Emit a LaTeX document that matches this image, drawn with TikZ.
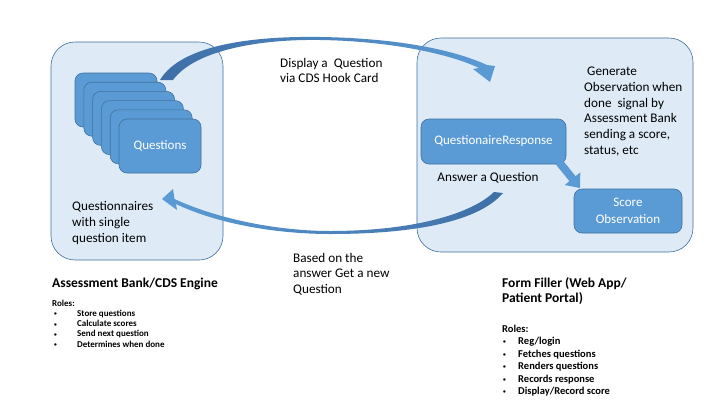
\documentclass[tikz,border=0pt]{standalone}
\usepackage{fontspec}
\setmainfont{Carlito}
\definecolor{panel}{HTML}{DEEBF7}
\definecolor{edge}{HTML}{41719C}
\definecolor{boxfill}{HTML}{5B9BD5}
\definecolor{arrdark}{HTML}{3E6EA6}
\newcommand{\smallbul}{{\fontsize{5.5}{5.5}\selectfont\raisebox{0.6pt}{\textbullet}}}
\begin{document}
\begin{tikzpicture}[x=1pt,y=-1pt,
  container/.style={draw=edge, line width=0.6pt, fill=panel, rounded corners=24pt, inner sep=0},
  bluebox/.style={draw=edge, line width=0.6pt, fill=boxfill, rounded corners=8pt, inner sep=0, text=white, align=center, font=\fontsize{13}{16.5}\selectfont},
  txt/.style={font=\fontsize{13.2}{16}\selectfont, inner sep=0, align=left, anchor=west},
  titletxt/.style={font=\bfseries\fontsize{13.5}{15}\selectfont, inner sep=0, align=left, anchor=west},
  roleleft/.style={font=\bfseries\fontsize{9}{10.3}\selectfont, inner sep=0, align=left, anchor=west},
  roleright/.style={font=\bfseries\fontsize{10.5}{12.5}\selectfont, inner sep=0, align=left, anchor=west},
]
\useasboundingbox (0,0) rectangle (720,405);
\fill[white] (0,0) rectangle (720,405);

% containers
\node[container, minimum width=172pt, minimum height=218pt] (bank) at (137,151) {};
\node[container, minimum width=276pt, minimum height=214pt] (filler) at (555,145) {};

% top curved arrow
\coordinate (tstart) at (160,80);
\shade[left color=arrdark, right color=boxfill]
  (tstart) .. controls (182,43) and (260,36) .. (320,37)
  .. controls (390,38) and (450,48) .. (487,65)
  -- (495,66) -- (490,82) -- (473,69) -- (479,68)
  .. controls (450,54) and (390,41) .. (320,40)
  .. controls (260,39) and (195,50) .. (173,80) -- cycle;

% bottom curved arrow
\coordinate (btip) at (162,199);
\shade[left color=boxfill, right color=arrdark]
  (btip) -- (177,210) -- (176,204)
  .. controls (220,225) and (280,234) .. (330,234)
  .. controls (420,234) and (480,220) .. (503,193)
  -- (494,192)
  .. controls (470,215) and (410,231) .. (330,231)
  .. controls (280,231) and (220,220) .. (174.5,199)
  -- (173,189) -- cycle;

% question stack
\foreach \i in {0,...,4}{
  \node[bluebox, minimum width=82pt, minimum height=54pt] (q\i) at ({116+8.8*\i},{100+9.2*\i}) {};
}
\node[bluebox, minimum width=82pt, minimum height=54pt] (q5) at (160,146) {Questions};

% form filler boxes
\node[bluebox, minimum width=145pt, minimum height=45pt] (qr) at (493.5,141.5) {QuestionaireResponse};
\node[bluebox, minimum width=108pt, minimum height=44pt] (score) at (628,211) {Score\\Observation};

% small block arrow
\fill[boxfill] (555.9,164.5) -- (562.1,159.5) -- (575.6,176.2) -- (580.3,172.4)
  -- (580,188) -- (564.7,185.0) -- (569.4,181.2) -- cycle;

% texts
\node[txt] (qtxt) at (72,223) {Questionnaires\\with single\\question item};
\node[txt, font=\fontsize{13.2}{15}\selectfont] (disp) at (280,70.5) {Display a \ Question\\via CDS Hook Card};
\node[txt, font=\fontsize{13.2}{15.5}\selectfont] (based) at (293,274) {Based on the\\answer Get a new\\Question};
\node[txt, anchor=center] (ans) at (488,178) {Answer a Question};
\node[txt, font=\fontsize{13.2}{15.8}\selectfont] (gen) at (584,111.5) {\ Generate\\Observation when\\done \ signal by\\Assessment Bank\\sending a score,\\status, etc};

\node[titletxt] (t1) at (52,284) {Assessment Bank/CDS Engine};
\node[titletxt] (t2) at (502,291.5) {Form Filler (Web App/\\Patient Portal)};

\node[roleleft] (r1) at (52,323.5) {Roles:\\
\hspace*{2pt}\makebox[23pt][l]{\smallbul}Store questions\\
\hspace*{2pt}\makebox[23pt][l]{\smallbul}Calculate scores\\
\hspace*{2pt}\makebox[23pt][l]{\smallbul}Send next question\\
\hspace*{2pt}\makebox[23pt][l]{\smallbul}Determines when done};

\node[roleright] (r2) at (502,360.4) {Roles:\\
\hspace*{1pt}\makebox[15pt][l]{\smallbul}Reg/login\\
\hspace*{1pt}\makebox[15pt][l]{\smallbul}Fetches questions\\
\hspace*{1pt}\makebox[15pt][l]{\smallbul}Renders questions\\
\hspace*{1pt}\makebox[15pt][l]{\smallbul}Records response\\
\hspace*{1pt}\makebox[15pt][l]{\smallbul}Display/Record score};
\end{tikzpicture}
\end{document}
